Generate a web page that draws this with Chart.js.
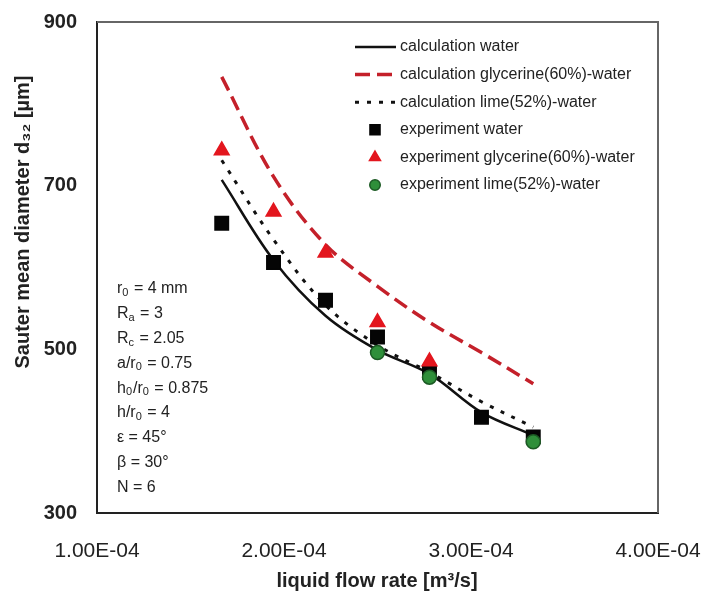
<!DOCTYPE html>
<html>
<head>
<meta charset="utf-8">
<script src="https://cdn.jsdelivr.net/npm/chart.js@4.4.1/dist/chart.umd.min.js"></script>
<style>
  html, body { margin: 0; padding: 0; background: #fff; }
  #wrap { width: 704px; height: 595px; }
</style>
</head>
<body>
<div id="wrap"><canvas id="sauterChart" width="704" height="595"></canvas></div>
<script>
// liquid flow rate [m3/s] (0.6 ... 1.2 m3/h)
const flowRates = [1.667e-4, 1.944e-4, 2.222e-4, 2.5e-4, 2.778e-4, 3.056e-4, 3.333e-4];
const calcWater = [707, 609, 541, 499, 470, 423, 395];
const calcGlycerine = [833, 711, 628, 577, 533, 496, 458];
const calcLime = [731, 634, 554, 505, 472, 436, 405];
const expWater = [654, 606, 560, 515, 472, 417, 393];
const expGlycerineFlow = [1.667e-4, 1.944e-4, 2.222e-4, 2.5e-4, 2.778e-4];
const expGlycerine = [743, 668, 618, 533, 485];
const expLimeFlow = [2.5e-4, 2.778e-4, 3.333e-4];
const expLime = [496, 466, 387];
const xTicks = [1e-4, 2e-4, 3e-4, 4e-4];
const yTicks = [300, 500, 700, 900];
const seriesNames = [
  "calculation water",
  "calculation glycerine(60%)-water",
  "calculation lime(52%)-water",
  "experiment water",
  "experiment glycerine(60%)-water",
  "experiment lime(52%)-water",
];
// parameter box, [text, subscript] pieces
const paramLines = [
  [["r"], ["0", 1], [" = 4 mm"]],
  [["R"], ["a", 1], [" = 3"]],
  [["R"], ["c", 1], [" = 2.05"]],
  [["a/r"], ["0", 1], [" = 0.75"]],
  [["h"], ["0", 1], ["/r"], ["0", 1], [" = 0.875"]],
  [["h/r"], ["0", 1], [" = 4"]],
  [["ε = 45°"]],
  [["β = 30°"]],
  [["N = 6"]],
];

const FONT = "'Liberation Sans', Arial, sans-serif";
const pts = (xs, ys) => ys.map((y, i) => ({ x: xs[i], y }));

function sciLabel(v) {
  const [m, e] = v.toExponential(2).split("e");
  const n = parseInt(e, 10);
  return m + "E" + (n < 0 ? "-" : "+") + String(Math.abs(n)).padStart(2, "0");
}

const framePlugin = {
  id: "frame",
  beforeDatasetsDraw(chart) {
    const { ctx, chartArea: a } = chart;
    ctx.save();
    ctx.strokeStyle = "#666";
    ctx.lineWidth = 2;
    ctx.beginPath();
    ctx.moveTo(a.left, a.top);
    ctx.lineTo(a.right, a.top);
    ctx.lineTo(a.right, a.bottom);
    ctx.stroke();
    ctx.restore();
  },
};

const textPlugin = {
  id: "texts",
  afterDraw(chart) {
    const ctx = chart.ctx;
    ctx.save();
    ctx.fillStyle = "#222";
    // axis titles
    ctx.font = "bold 20px " + FONT;
    ctx.textAlign = "center";
    ctx.textBaseline = "middle";
    ctx.fillText("liquid flow rate [m³/s]", 377, 581);
    ctx.save();
    ctx.translate(23, 222);
    ctx.rotate(-Math.PI / 2);
    ctx.fillText("Sauter mean diameter d₃₂ [µm]", 0, 0);
    ctx.restore();

    // parameters
    ctx.textAlign = "left";
    paramLines.forEach((line, i) => {
      let x = 117;
      const y = 289 + i * 24.8;
      line.forEach(([t, sub]) => {
        ctx.font = (sub ? "11px " : "16px ") + FONT;
        ctx.fillText(t, x, sub ? y + 4 : y);
        x += ctx.measureText(t).width + (sub ? 1 : 0);
      });
    });

    // legend
    const ds = chart.data.datasets;
    ds.forEach((d, i) => {
      const y = 47 + i * 27.6;
      if (d.showLine) {
        ctx.save();
        ctx.strokeStyle = d.borderColor;
        ctx.lineWidth = d.borderWidth;
        ctx.setLineDash(d.borderDash || []);
        ctx.beginPath();
        ctx.moveTo(355, y);
        ctx.lineTo(396, y);
        ctx.stroke();
        ctx.restore();
      } else {
        ctx.save();
        ctx.fillStyle = d.backgroundColor;
        ctx.strokeStyle = d.borderColor;
        ctx.lineWidth = d.pointBorderWidth;
        Chart.helpers.drawPoint(ctx, {
          pointStyle: d.pointStyle,
          radius: d.pointRadius * 0.75,
          borderWidth: d.pointBorderWidth,
          rotation: 0,
        }, 375, y);
        ctx.restore();
      }
      ctx.fillStyle = "#222";
      ctx.font = "16px " + FONT;
      ctx.textAlign = "left";
      ctx.textBaseline = "middle";
      ctx.fillText(seriesNames[i], 400, y);
    });
    ctx.restore();
  },
};

const lineSet = (label, xs, ys, color, width, dash) => ({
  label,
  data: pts(xs, ys),
  showLine: true,
  borderColor: color,
  borderWidth: width,
  borderDash: dash,
  pointRadius: 0,
  tension: 0.35,
  order: 3,
});

const markSet = (label, xs, ys, style, fill, stroke, r, order) => ({
  label,
  data: pts(xs, ys),
  showLine: false,
  pointStyle: style,
  backgroundColor: fill,
  borderColor: stroke,
  pointBackgroundColor: fill,
  pointBorderColor: stroke,
  pointRadius: r,
  pointBorderWidth: 1.5,
  order,
});

new Chart(document.getElementById("sauterChart"), {
  type: "scatter",
  data: {
    datasets: [
      lineSet(seriesNames[0], flowRates, calcWater, "#111", 2.5, []),
      lineSet(seriesNames[1], flowRates, calcGlycerine, "#c4202a", 3.5, [15, 7]),
      lineSet(seriesNames[2], flowRates, calcLime, "#111", 3, [4, 8]),
      markSet(seriesNames[3], flowRates, expWater, "rect", "#050505", "#050505", 9.5, 2),
      markSet(seriesNames[4], expGlycerineFlow, expGlycerine, "triangle", "#e3161e", "#e3161e", 8.5, 1),
      markSet(seriesNames[5], expLimeFlow, expLime, "circle", "#2f8f3a", "#1c5a24", 7, 0),
    ],
  },
  options: {
    responsive: false,
    animation: false,
    devicePixelRatio: 1,
    layout: { padding: { top: 22, right: 46, left: 0, bottom: 0 } },
    plugins: { legend: { display: false }, tooltip: { enabled: false } },
    scales: {
      x: {
        type: "linear",
        min: 1e-4,
        max: 4e-4,
        afterBuildTicks(scale) {
          scale.ticks = xTicks.map((value) => ({ value }));
        },
        afterFit(scale) {
          scale.height = 82;
          scale.paddingLeft = 0;
          scale.paddingRight = 0;
        },
        grid: { display: false, drawTicks: false },
        border: { display: true, color: "#222", width: 2 },
        ticks: {
          padding: 26,
          color: "#222",
          font: { family: FONT, size: 21 },
          callback: (v) => sciLabel(v),
        },
      },
      y: {
        min: 300,
        max: 900,
        afterBuildTicks(scale) {
          scale.ticks = yTicks.map((value) => ({ value }));
        },
        afterFit(scale) {
          scale.width = 97;
          scale.paddingTop = 0;
          scale.paddingBottom = 0;
        },
        grid: { display: false, drawTicks: false },
        border: { display: true, color: "#222", width: 2 },
        ticks: {
          padding: 20,
          color: "#222",
          font: { family: FONT, size: 20, weight: "bold" },
        },
      },
    },
  },
  plugins: [framePlugin, textPlugin],
});
</script>
</body>
</html>
